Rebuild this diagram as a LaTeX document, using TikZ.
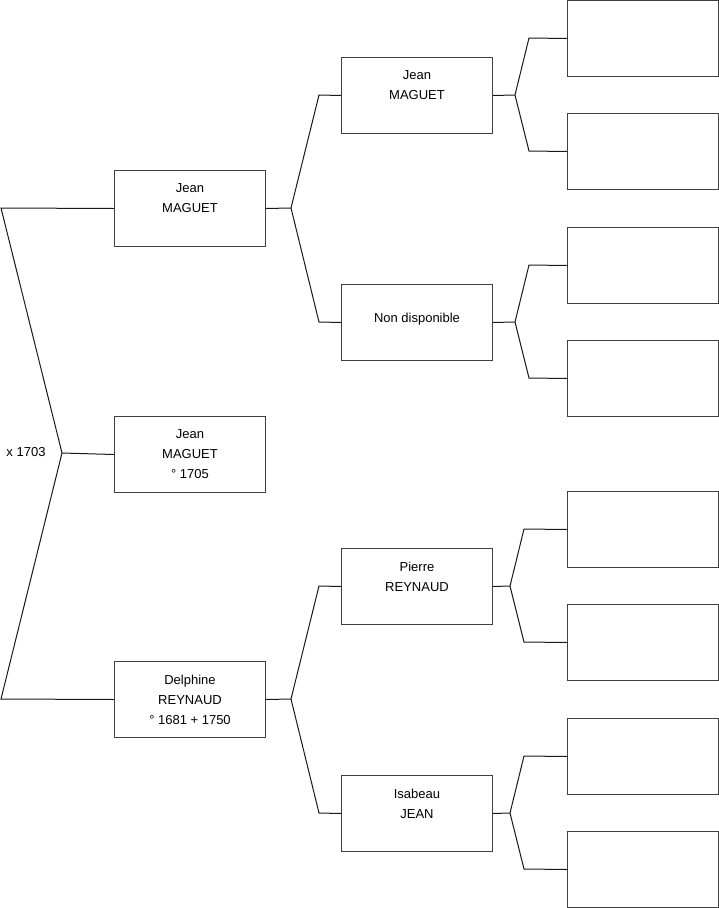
\documentclass[tikz,border=0pt]{standalone}
\usepackage{fontspec}
\setmainfont{Liberation Sans}
\begin{document}
\begin{tikzpicture}[x=1pt,y=-1pt,
  person/.style={draw=black!75,line width=1pt,minimum width=151pt,minimum height=76pt,inner sep=0pt,align=center,font=\fontsize{13}{20}\selectfont,anchor=north west},
  link/.style={draw=black!90,line width=1pt}]
\useasboundingbox (0,0) rectangle (719,908);
% generation 1
\node[person] (c) at (114,416) {Jean\\MAGUET\\° 1705};
\node[person] (f) at (114,170) {Jean\\MAGUET\\\mbox{}};
\node[person] (m) at (114,661) {Delphine\\REYNAUD\\° 1681 + 1750};
% generation 2
\node[person] (ff) at (341,57) {Jean\\MAGUET\\\mbox{}};
\node[person] (fm) at (341,284) {\mbox{}\\Non disponible\\\mbox{}};
\node[person] (mf) at (341,548) {Pierre\\REYNAUD\\\mbox{}};
\node[person] (mm) at (341,775) {Isabeau\\JEAN\\\mbox{}};
% generation 3
\node[person] (g1) at (567,0) {};
\node[person] (g2) at (567,113) {};
\node[person] (g3) at (567,227) {};
\node[person] (g4) at (567,340) {};
\node[person] (g5) at (567,491) {};
\node[person] (g6) at (567,604) {};
\node[person] (g7) at (567,718) {};
\node[person] (g8) at (567,831) {};
% marriage bracket
\coordinate (a) at (62,453);
\coordinate (t) at (1,208);
\coordinate (b) at (1,699);
\draw[link] (f.west) -- (t) -- (a) -- (b) -- (m.west);
\draw[link] (a) -- (c.west);
\node[font=\fontsize{13}{15}\selectfont] (x) at (26,452) {x 1703};
% father fork
\coordinate (pf) at (291,208);
\draw[link] (f.east) -- (pf);
\draw[link] (pf) -- (319,95) -- (ff.west);
\draw[link] (pf) -- (319,322) -- (fm.west);
% mother fork
\coordinate (pm) at (291,699);
\draw[link] (m.east) -- (pm);
\draw[link] (pm) -- (319,586) -- (mf.west);
\draw[link] (pm) -- (319,813) -- (mm.west);
% gen2 forks
\coordinate (q1) at (515,95);
\draw[link] (ff.east) -- (q1);
\draw[link] (q1) -- (529,38) -- (g1.west);
\draw[link] (q1) -- (529,151) -- (g2.west);
\coordinate (q2) at (515,322);
\draw[link] (fm.east) -- (q2);
\draw[link] (q2) -- (529,265) -- (g3.west);
\draw[link] (q2) -- (529,378) -- (g4.west);
\coordinate (q3) at (510,586);
\draw[link] (mf.east) -- (q3);
\draw[link] (q3) -- (524,529) -- (g5.west);
\draw[link] (q3) -- (524,642) -- (g6.west);
\coordinate (q4) at (510,813);
\draw[link] (mm.east) -- (q4);
\draw[link] (q4) -- (524,756) -- (g7.west);
\draw[link] (q4) -- (524,869) -- (g8.west);
\end{tikzpicture}
\end{document}
